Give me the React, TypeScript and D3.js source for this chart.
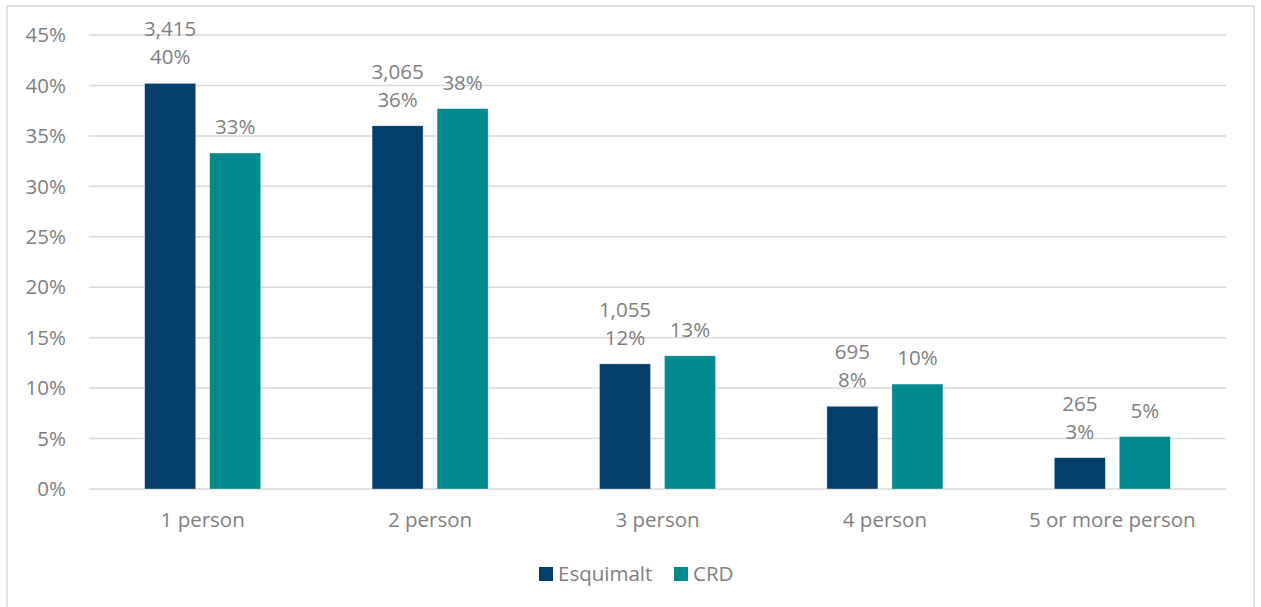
import React from "react";
import * as d3 from "d3";

const categories = ["1 person", "2 person", "3 person", "4 person", "5 or more person"];
const esquimaltPct = [40.2, 36.0, 12.4, 8.2, 3.1];
const crdPct = [33.3, 37.7, 13.2, 10.4, 5.2];
const esquimaltCounts = ["3,415", "3,065", "1,055", "695", "265"];
const esquimaltLabels = ["40%", "36%", "12%", "8%", "3%"];
const crdLabels = ["33%", "38%", "13%", "10%", "5%"];
const yTicks = [0, 5, 10, 15, 20, 25, 30, 35, 40, 45];
const seriesNames = ["Esquimalt", "CRD"];
const colors = ["#043f6b", "#028a8f"];

const W = 1261;
const H = 607;
const plotLeft = 89;
const plotRight = 1226;
const plotTop = 35;
const plotBottom = 489;
const textColor = "#7f7f7f";
const font = "'Open Sans', sans-serif";
const fs = 20.5;

export default function App() {
  const x = d3.scaleBand<string>().domain(categories).range([plotLeft, plotRight]).padding(0);
  const y = d3.scaleLinear().domain([0, 45]).range([plotBottom, plotTop]);
  const barW = 51;
  const gap = 14;

  return (
    <svg width={W} height={H} style={{ position: "absolute", left: 0, top: 0, background: "#fff" }}>
      <rect x={7} y={6} width={1247} height={610} fill="#fff" stroke="#d9d9d9" strokeWidth={1.5} />
      {yTicks.map((t) => (
        <g key={t}>
          <line x1={plotLeft} x2={plotRight} y1={y(t)} y2={y(t)} stroke="#d9d9d9" strokeWidth={1.5} />
          <text x={66} y={y(t)} dy="0.35em" textAnchor="end" fontFamily={font} fontSize={fs} fill={textColor}>
            {t}%
          </text>
        </g>
      ))}
      {categories.map((c, i) => {
        const cx = (x(c) as number) + x.bandwidth() / 2;
        const ex = cx - gap / 2 - barW;
        const rx = cx + gap / 2;
        const eTop = y(esquimaltPct[i]);
        const rTop = y(crdPct[i]);
        return (
          <g key={c}>
            <rect x={ex} y={eTop} width={barW} height={plotBottom - eTop} fill={colors[0]} stroke="#fff" strokeOpacity={0.5} strokeWidth={0.6} />
            <rect x={rx} y={rTop} width={barW} height={plotBottom - rTop} fill={colors[1]} stroke="#fff" strokeOpacity={0.5} strokeWidth={0.6} />
            <text x={ex + barW / 2} y={eTop - 47} textAnchor="middle" fontFamily={font} fontSize={fs} fill={textColor}>
              {esquimaltCounts[i]}
            </text>
            <text x={ex + barW / 2} y={eTop - 19} textAnchor="middle" fontFamily={font} fontSize={fs} fill={textColor}>
              {esquimaltLabels[i]}
            </text>
            <text x={rx + barW / 2} y={rTop - 19} textAnchor="middle" fontFamily={font} fontSize={fs} fill={textColor}>
              {crdLabels[i]}
            </text>
            <text x={cx} y={520} dy="0.35em" textAnchor="middle" fontFamily={font} fontSize={fs} fill={textColor}>
              {c}
            </text>
          </g>
        );
      })}
      <g>
        <rect x={539} y={567} width={14} height={14} fill={colors[0]} />
        <text x={558} y={574} dy="0.35em" fontFamily={font} fontSize={fs} fill={textColor}>
          {seriesNames[0]}
        </text>
        <rect x={674} y={567} width={14} height={14} fill={colors[1]} />
        <text x={693} y={574} dy="0.35em" fontFamily={font} fontSize={fs} fill={textColor}>
          {seriesNames[1]}
        </text>
      </g>
    </svg>
  );
}
